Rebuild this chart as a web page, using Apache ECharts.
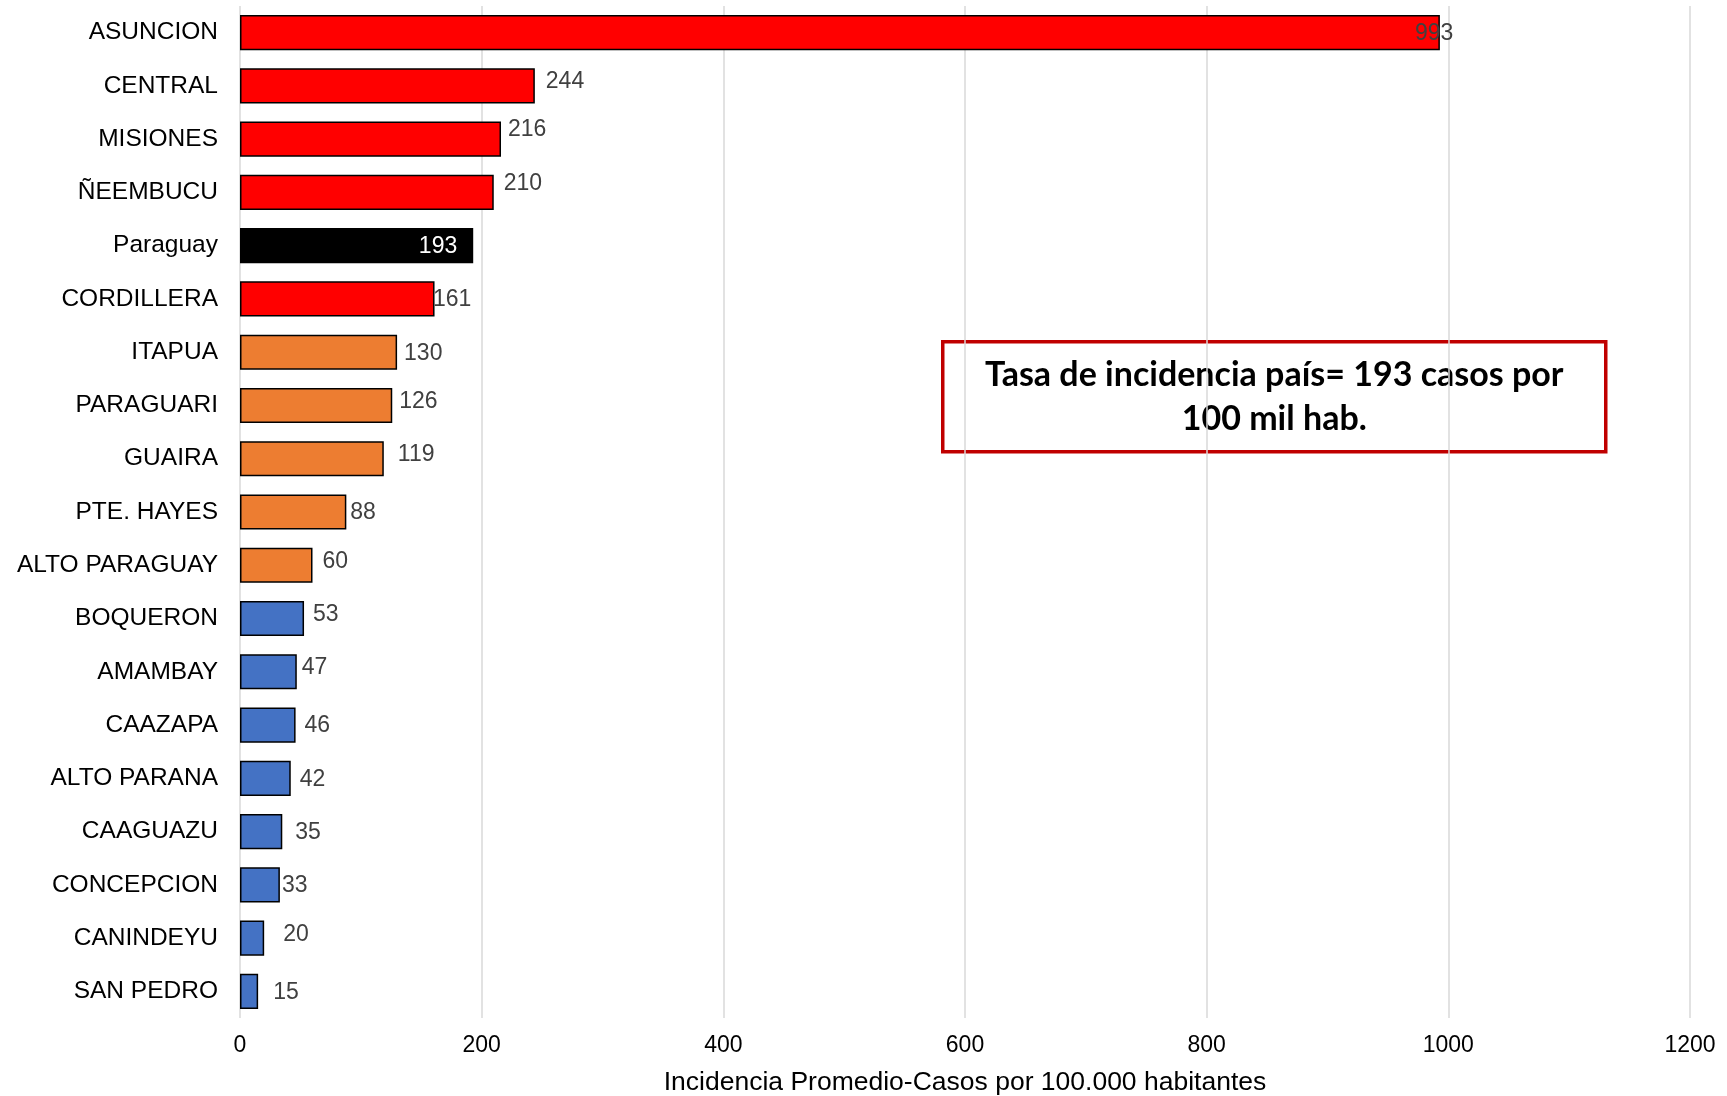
<!DOCTYPE html>
<html>
<head>
<meta charset="utf-8">
<script src="https://cdn.jsdelivr.net/npm/echarts@6/dist/echarts.min.js"></script>
<style>html,body{margin:0;padding:0;background:#fff}#chart{width:1727px;height:1096px}</style>
</head>
<body>
<div id="chart"></div>
<script>
const categories = ["ASUNCION","CENTRAL","MISIONES","ÑEEMBUCU","Paraguay","CORDILLERA","ITAPUA","PARAGUARI","GUAIRA","PTE. HAYES","ALTO PARAGUAY","BOQUERON","AMAMBAY","CAAZAPA","ALTO PARANA","CAAGUAZU","CONCEPCION","CANINDEYU","SAN PEDRO"];
const values = [993,244,216,210,193,161,130,126,119,88,60,53,47,46,42,35,33,20,15];
const groups = ["high","high","high","high","country","high","mid","mid","mid","mid","mid","low","low","low","low","low","low","low","low"];
const xTicks = [0,200,400,600,800,1000,1200];
const axisTitle = "Incidencia Promedio-Casos por 100.000 habitantes";
const noteLines = ["Tasa de incidencia país= 193 casos por", "100 mil hab."];

// styling (not data)
const groupColors = {high:"#FF0000", mid:"#ED7D31", low:"#4472C4", country:"#000000"};
const labelDx = [-30,6,2,5,-11,-6.5,2,2,9,-1,5,4,0,4,4,8,-3,14,10];
const labelDy = [0,-5,-10.5,-10,0,0,0,-4.5,-5,0,-4.5,-5,-5,0,0,0,0,-4.5,0];

const font = "Liberation Sans";
const chart = echarts.init(document.getElementById('chart'), null, {renderer:'canvas'});

const seriesData = values.map((v,i) => {
  const isCountry = groups[i] === 'country';
  return {
    value: v,
    itemStyle: {color: groupColors[groups[i]]},
    label: {
      position: isCountry ? 'insideRight' : 'right',
      color: isCountry ? '#FFFFFF' : '#404040',
      offset: [labelDx[i], labelDy[i] + 1]
    }
  };
});

chart.setOption({
  animation: false,
  backgroundColor: '#fff',
  grid: {left: 240, right: 37, top: 6, bottom: 78, containLabel: false, outerBoundsMode: 'none'},
  xAxis: {
    type: 'value', min: xTicks[0], max: xTicks[xTicks.length-1], interval: xTicks[1]-xTicks[0],
    axisLine: {show:false}, axisTick: {show:false},
    splitLine: {show:true, lineStyle:{color:'#D9D9D9', width:1.5}},
    axisLabel: {color:'#000', fontSize:23, fontFamily:font, margin:16, formatter: v => String(v)},
    name: axisTitle, nameLocation: 'middle', nameGap: 51,
    nameTextStyle: {color:'#000', fontSize:26.5, fontFamily:font}
  },
  yAxis: {
    type: 'category', data: categories, inverse: true,
    axisLine: {show:false}, axisTick: {show:false},
    axisLabel: {color:'#000', fontSize:24.5, fontFamily:font, margin:22}
  },
  series: [{
    type: 'bar', data: seriesData, barWidth: '66%',
    itemStyle: {borderColor:'#000', borderWidth:1.5},
    label: {show:true, fontSize:23, fontFamily:font, distance:5, color:'#404040'}
  }],
  graphic: [{
    type: 'group', left: 941, top: 340,
    children: [
      {type:'rect', shape:{x:0,y:0,width:663,height:110}, style:{fill:'#fff', stroke:'#C00000', lineWidth:3.5}},
      {type:'text', x:331.5, y:55, style:{text: noteLines.join('\n'), font:'bold 34px Lato', fill:'#000', align:'center', verticalAlign:'middle', lineHeight:44}}
    ]
  }]
});
</script>
</body>
</html>
